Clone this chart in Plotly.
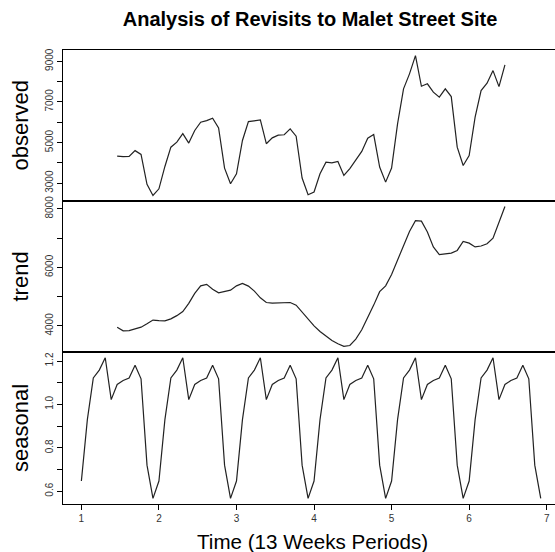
import plotly.graph_objects as go

# ---- data ----
freq = 13
start_index = 6  # first observed week index (t = 1 + 6/13)
observed = [4330, 4300, 4310, 4600, 4410, 2940, 2395, 2720, 3820, 4770,
            5020, 5440, 4970, 5590, 6000, 6080, 6200, 5720, 3740, 2970,
            3460, 5100, 6030, 6070, 6110, 4940, 5230, 5360, 5380, 5670,
            5310, 3250, 2430, 2560, 3460, 4030, 4000, 4070, 3380, 3710,
            4120, 4560, 5210, 5390, 3790, 3050, 3740, 5920, 7640, 8380,
            9280, 7770, 7890, 7480, 7230, 7640, 7260, 4770, 3870, 4360,
            6250, 7560, 7920, 8540, 7750, 8820]
trend = [3955, 3830, 3840, 3890, 3955, 4070, 4200, 4180, 4170, 4240,
         4350, 4490, 4770, 5110, 5370, 5420, 5250, 5130, 5170, 5220,
         5370, 5450, 5360, 5190, 4960, 4800, 4780, 4790, 4790, 4800,
         4710, 4475, 4215, 4000, 3810, 3640, 3500, 3390, 3300, 3330,
         3550, 3865, 4260, 4710, 5170, 5370, 5760, 6230, 6750, 7230,
         7600, 7580, 7210, 6700, 6440, 6460, 6490, 6580, 6890, 6830,
         6700, 6730, 6810, 7000, 7550, 8080]
seasonal_figure = [0.647, 0.93, 1.122, 1.158, 1.215, 1.022, 1.092,
                   1.110, 1.122, 1.180, 1.118, 0.720, 0.567]
n_periods = 6
x_ticks = [1, 2, 3, 4, 5, 6, 7]
obs_ticks = [3000, 4000, 5000, 6000, 7000, 8000, 9000]
obs_labels = ["3000", "", "5000", "", "7000", "", "9000"]
trend_ticks = [4000, 5000, 6000, 7000, 8000]
trend_labels = ["4000", "", "6000", "", "8000"]
seas_ticks = [0.6, 0.7, 0.8, 0.9, 1.0, 1.1, 1.2]
seas_labels = ["0.6", "", "0.8", "", "1.0", "", "1.2"]

seasonal = seasonal_figure * n_periods
t_seas = [1 + k / freq for k in range(len(seasonal))]
t_obs = [1 + (start_index + k) / freq for k in range(len(observed))]

LINE = dict(color="#222222", width=1.2)
FONT = "Liberation Sans, Arial, Helvetica, sans-serif"

fig = go.Figure()
fig.add_trace(go.Scatter(x=t_obs, y=observed, mode="lines", line=LINE,
                         xaxis="x3", yaxis="y3", showlegend=False))
fig.add_trace(go.Scatter(x=t_obs, y=trend, mode="lines", line=LINE,
                         xaxis="x2", yaxis="y2", showlegend=False))
fig.add_trace(go.Scatter(x=t_seas, y=seasonal, mode="lines", line=LINE,
                         xaxis="x", yaxis="y", showlegend=False))

H_PLOT = 552 - 50 - 48
d1 = 152 / H_PLOT
d2 = (152 + 151) / H_PLOT
xr = [0.763, 7.107]

common_x = dict(range=xr, showgrid=False, zeroline=False, showline=True,
                linecolor="black", linewidth=1, mirror=True,
                automargin=False)
common_y = dict(showgrid=False, zeroline=False, showline=True,
                linecolor="black", linewidth=1, ticks="outside", ticklen=5,
                tickcolor="black", tickangle=-90, automargin=False,
                tickfont=dict(size=10, color="#333333", family=FONT))

fig.update_layout(
    template="none",
    width=555, height=552,
    margin=dict(l=63, r=0, t=50, b=48, autoexpand=False),
    paper_bgcolor="white", plot_bgcolor="white",
    font=dict(family=FONT, color="black"),
    title=dict(text="<b>Analysis of Revisits to Malet Street Site</b>",
               x=310 / 555, xanchor="center", xref="container",
               y=1 - 19 / 552, yanchor="middle", yref="container",
               font=dict(size=20, family=FONT, color="black")),
    xaxis=dict(**common_x, anchor="y", ticks="outside", ticklen=5,
               tickcolor="black", tickvals=x_ticks,
               tickfont=dict(size=10, color="#333333", family=FONT)),
    xaxis2=dict(**common_x, anchor="y2", matches="x", showticklabels=False,
                ticks=""),
    xaxis3=dict(**common_x, anchor="y3", matches="x", showticklabels=False,
                ticks=""),
    yaxis=dict(**common_y, domain=[0, d1], range=[0.541, 1.2415],
               tickvals=seas_ticks, ticktext=seas_labels, anchor="x"),
    yaxis2=dict(**common_y, domain=[d1, d2], range=[3107, 8270],
                tickvals=trend_ticks, ticktext=trend_labels, anchor="x2"),
    yaxis3=dict(**common_y, domain=[d2, 1], range=[2120, 9554],
                tickvals=obs_ticks, ticktext=obs_labels, anchor="x3"),
)

ytitle_x = (20 - 63) / (555 - 63)
for text, yc in [("observed", (d2 + 1) / 2), ("trend", (d1 + d2) / 2),
                 ("seasonal", d1 / 2)]:
    fig.add_annotation(text=text, xref="paper", yref="paper", x=ytitle_x,
                       y=yc, xanchor="center", yanchor="middle",
                       textangle=-90, showarrow=False,
                       font=dict(size=22, family=FONT, color="black"))

fig.add_annotation(text="Time (13 Weeks Periods)", xref="paper",
                   yref="paper", x=(312 - 63) / (555 - 63),
                   y=-(541 - 504) / H_PLOT, xanchor="center",
                   yanchor="middle", showarrow=False,
                   font=dict(size=20.6, family=FONT, color="black"))

fig.write_html(
    "out.html",
    config={"displayModeBar": False, "staticPlot": True},
    post_script="document.body.style.margin='0px';"
                "document.body.style.padding='0px';"
                "document.body.style.overflow='hidden';",
)
